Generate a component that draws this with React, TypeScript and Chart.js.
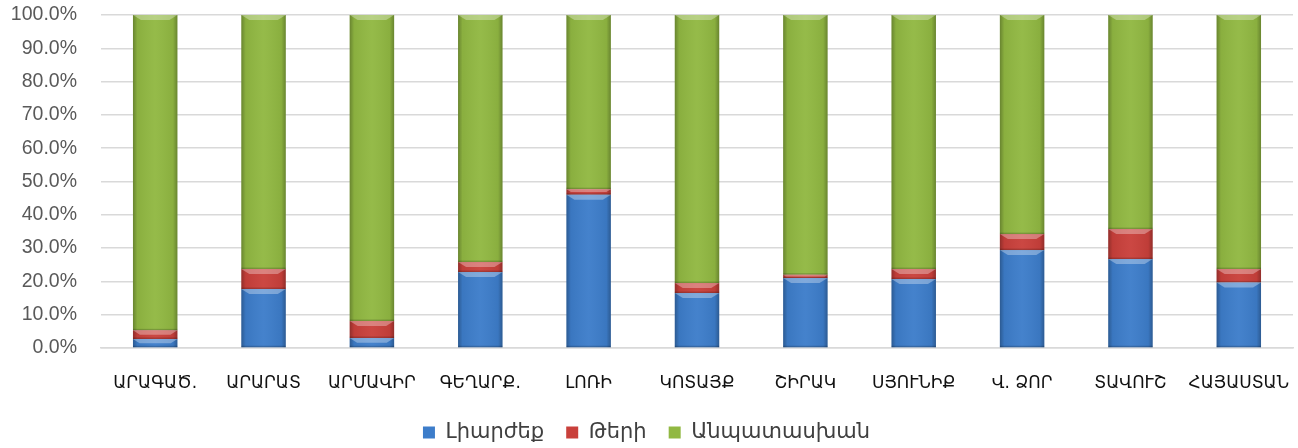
import React, { useEffect, useRef } from "react";
import { Chart, registerables } from "chart.js";

Chart.register(...registerables);

const categories = ["ԱՐԱԳԱԾ.", "ԱՐԱՐԱՏ", "ԱՐՄԱՎԻՐ", "ԳԵՂԱՐՔ.", "ԼՈՌԻ", "ԿՈՏԱՅՔ", "ՇԻՐԱԿ", "ՍՅՈՒՆԻՔ", "Վ. ՁՈՐ", "ՏԱՎՈՒՇ", "ՀԱՅԱՍՏԱՆ"];
const full = [2.7, 17.7, 3.0, 22.8, 46.0, 16.5, 21.0, 20.7, 29.4, 26.7, 19.7];
const partial = [2.6, 6.0, 5.1, 3.0, 1.7, 3.0, 1.0, 3.0, 4.8, 9.0, 4.0];
const noAnswer = full.map((v, i) => +(100 - v - partial[i]).toFixed(1));
const seriesNames = ["Լիարժեք", "Թերի", "Անպատասխան"];

const PAD_BOTTOM = -5;

const bevelPlugin = {
  id: "bevel",
  afterDatasetsDraw(chart: any) {
    const ctx = chart.ctx;
    chart.data.datasets.forEach((_: any, di: number) => {
      const meta = chart.getDatasetMeta(di);
      meta.data.forEach((bar: any) => {
        const { x, y, base, width } = bar.getProps(["x", "y", "base", "width"], true);
        const left = x - width / 2;
        const right = x + width / 2;
        const top = Math.min(y, base);
        const bottom = Math.max(y, base);
        const h = bottom - top;
        if (h <= 0) return;
        ctx.save();
        const g = ctx.createLinearGradient(left, 0, right, 0);
        g.addColorStop(0, "rgba(0,0,0,0.28)");
        g.addColorStop(0.1, "rgba(0,0,0,0.05)");
        g.addColorStop(0.5, "rgba(255,255,255,0.04)");
        g.addColorStop(0.9, "rgba(0,0,0,0.05)");
        g.addColorStop(1, "rgba(0,0,0,0.28)");
        ctx.fillStyle = g;
        ctx.fillRect(left, top, width, h);
        const bh = Math.min(5, h / 2);
        ctx.beginPath();
        ctx.moveTo(left, top);
        ctx.lineTo(right, top);
        ctx.lineTo(right - bh * 1.6, top + bh);
        ctx.lineTo(left + bh * 1.6, top + bh);
        ctx.closePath();
        ctx.fillStyle = "rgba(255,255,255,0.32)";
        ctx.fill();
        ctx.fillStyle = "rgba(0,0,0,0.18)";
        ctx.fillRect(left, bottom - Math.min(1.5, h / 3), width, Math.min(1.5, h / 3));
        ctx.restore();
      });
    });
  },
};

export default function App() {
  const ref = useRef<HTMLCanvasElement>(null);
  useEffect(() => {
    document.body.style.margin = "0";
    const font = "'DejaVu Sans', 'Noto Sans', sans-serif";
    const chart = new Chart(ref.current!, {
      type: "bar",
      data: {
        labels: categories,
        datasets: [
          { label: seriesNames[0], data: full, backgroundColor: "#3d7dca", borderColor: "#2a5a95", borderWidth: 0 },
          { label: seriesNames[1], data: partial, backgroundColor: "#c9403b", borderColor: "#8e2422", borderWidth: 0 },
          { label: seriesNames[2], data: noAnswer, backgroundColor: "#91b842", borderColor: "#668a26", borderWidth: 0 },
        ],
      },
      options: {
        animation: false,
        responsive: false,
        maintainAspectRatio: false,
        layout: { padding: { top: 15, right: 5, left: 0, bottom: PAD_BOTTOM } },
        datasets: { bar: { categoryPercentage: 1, barPercentage: 0.41 } },
        scales: {
          x: {
            stacked: true,
            afterFit: (s: any) => {
              s.paddingLeft = 0;
              s.paddingRight = 0;
              const lh = s.chart.legend ? s.chart.legend.height : 40;
              s.height = 448 - 348 - lh - PAD_BOTTOM;
            },
            grid: { display: false, drawTicks: false },
            border: { color: "#d9d9d9", width: 1.5 },
            ticks: { color: "#111", font: { family: font, size: 17 }, padding: 25, maxRotation: 0, autoSkip: false },
          },
          y: {
            stacked: true,
            min: 0,
            max: 100,
            afterFit: (s: any) => {
              s.width = 101;
              s.paddingTop = 0;
              s.paddingBottom = 0;
            },
            grid: { color: "#d9d9d9", lineWidth: 1.5, drawTicks: false },
            border: { display: false },
            ticks: {
              stepSize: 10,
              color: "#595959",
              padding: 24,
              font: { family: "'Liberation Sans', Arial, sans-serif", size: 19.5 },
              callback: (v: any) => Number(v).toFixed(1) + "%",
            },
          },
        },
        plugins: {
          legend: {
            position: "bottom",
            labels: { boxWidth: 12, boxHeight: 12, color: "#404040", font: { family: font, size: 21 }, padding: 22 },
          },
          tooltip: { enabled: false },
        },
      },
      plugins: [bevelPlugin],
    });
    return () => chart.destroy();
  }, []);
  return (
    <div style={{ width: 1298, height: 448, background: "#fff" }}>
      <canvas ref={ref} width={1298} height={448} style={{ display: "block" }} />
    </div>
  );
}
